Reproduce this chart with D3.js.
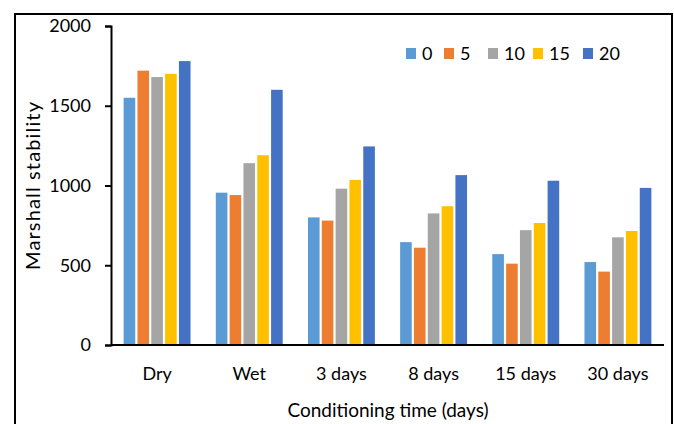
<!DOCTYPE html>
<html>
<meta charset="utf-8">
<style>
  body { margin: 0; background: #fff; }
  text { font-family: Lato, "Open Sans", sans-serif; fill: #000; }
  .axis path, .axis line { stroke: #000; stroke-width: 2; }
</style>
<body>
<script src="https://d3js.org/d3.v7.min.js"></script>
<script>
  // data
  const categories = ["Dry", "Wet", "3 days", "8 days", "15 days", "30 days"];
  const seriesNames = ["0", "5", "10", "15", "20"];
  const s0  = [1550, 955, 800, 645, 570, 520];
  const s5  = [1720, 940, 780, 610, 510, 460];
  const s10 = [1680, 1140, 980, 825, 720, 675];
  const s15 = [1700, 1190, 1035, 870, 765, 715];
  const s20 = [1780, 1600, 1245, 1065, 1030, 985];
  const yTicks = [0, 500, 1000, 1500, 2000];
  const colors = ["#5B9BD5", "#ED7D31", "#A5A5A5", "#FFC000", "#4472C4"];

  const series = [s0, s5, s10, s15, s20];

  let width = 674, height = 424;

  let svg = d3.select("body").append("svg")
    .attr("width", width)
    .attr("height", height);

  // outer frame
  svg.append("rect")
    .attr("x", 15).attr("y", 14)
    .attr("width", 657).attr("height", 430)
    .attr("fill", "none")
    .attr("stroke", "#000")
    .attr("stroke-width", 2);

  let x0 = d3.scaleBand()
    .domain(categories)
    .range([111, 664])
    .paddingInner(0.25)
    .paddingOuter(0.125);

  let x1 = d3.scaleBand()
    .domain(seriesNames)
    .range([0, x0.bandwidth()])
    .paddingInner(0.16)
    .paddingOuter(0.08);

  let y = d3.scaleLinear()
    .domain([0, 2000])
    .range([345, 26]);

  // bars
  let groups = svg.selectAll(".group")
    .data(categories)
    .enter().append("g")
    .attr("class", "group")
    .attr("transform", d => "translate(" + x0(d) + ",0)");

  groups.selectAll("rect")
    .data((c, i) => series.map((s, j) => ({ key: seriesNames[j], value: s[i], color: colors[j] })))
    .enter().append("rect")
    .attr("x", d => x1(d.key))
    .attr("y", d => y(d.value))
    .attr("width", x1.bandwidth())
    .attr("height", d => y(0) - y(d.value))
    .attr("fill", d => d.color);

  // y axis
  svg.append("g")
    .attr("class", "axis")
    .attr("transform", "translate(111,0)")
    .call(d3.axisLeft(y).tickValues(yTicks).tickFormat(d3.format("d"))
      .tickSize(6).tickSizeOuter(6).tickPadding(14))
    .call(g => g.selectAll("text").style("font-size", "18px").style("font-family", "Lato"));

  // x axis
  svg.append("g")
    .attr("class", "axis")
    .attr("transform", "translate(0,345)")
    .call(d3.axisBottom(x0).tickSize(0).tickPadding(22))
    .call(g => g.select(".domain").attr("d", "M111,0H664"))
    .call(g => g.selectAll("text").style("font-size", "18px").style("font-family", "Lato"));

  // axis titles
  svg.append("text")
    .attr("x", 388).attr("y", 417)
    .attr("text-anchor", "middle")
    .style("font-size", "19px")
    .text("Conditioning time (days)");

  svg.append("text")
    .attr("transform", "translate(40,186) rotate(-90)")
    .attr("text-anchor", "middle")
    .attr("textLength", 168)
    .attr("lengthAdjust", "spacing")
    .style("font-size", "20px")
    .text("Marshall stability");

  // legend
  const legendX = [406, 444, 488, 533, 583];
  let legend = svg.selectAll(".legend")
    .data(seriesNames)
    .enter().append("g")
    .attr("class", "legend")
    .attr("transform", (d, i) => "translate(" + legendX[i] + ",48)");

  legend.append("rect")
    .attr("width", 10).attr("height", 11)
    .attr("fill", (d, i) => colors[i]);

  legend.append("text")
    .attr("x", 16).attr("y", 12)
    .style("font-size", "18px")
    .text(d => d);
</script>
</body>
</html>
